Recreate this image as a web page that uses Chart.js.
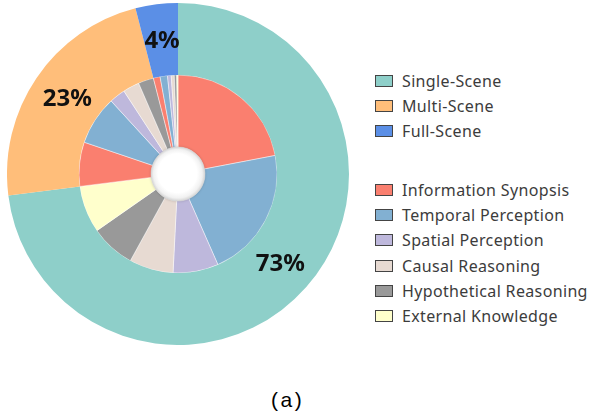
<!DOCTYPE html>
<html>
<head>
<meta charset="utf-8">
<script src="https://cdn.jsdelivr.net/npm/chart.js@4"></script>
<style>
  body{margin:0;background:#fff;}
  #wrap{position:relative;width:591px;height:418px;overflow:hidden;}
  #chartBox{position:absolute;left:7px;top:3px;width:342px;height:342px;}
  .legend{position:absolute;left:375px;font-family:'Noto Sans',sans-serif;font-size:16px;letter-spacing:0.35px;color:#3c3c3c;}
  .legend div{height:25.3px;display:flex;align-items:center;white-space:nowrap;}
  .legend span.box{display:inline-block;width:16px;height:10px;border:1px solid #444;margin-right:9px;}
  #cap{position:absolute;left:271px;top:388px;font-family:'Liberation Sans',Arial,sans-serif;font-size:21px;letter-spacing:2.5px;color:#000;}
</style>
</head>
<body>
<div id="wrap">
  <div id="chartBox"><canvas id="c"></canvas></div>
  <div class="legend" id="legScene" style="top:68px"></div>
  <div class="legend" id="legTask" style="top:177px"></div>
  <div id="cap">(a)</div>
</div>
<script>
// outer ring: scene type share (%)
const scenes = ['Single-Scene','Multi-Scene','Full-Scene'];
const sceneValues = [73, 23, 4];
const sceneColors = ['#8ECFC9','#FFBE7A','#5B8FE6'];

// inner ring: task type inside each scene (% of total)
const tasks = ['Information Synopsis','Temporal Perception','Spatial Perception','Causal Reasoning','Hypothetical Reasoning','External Knowledge'];
const taskColors = ['#FA7F6F','#82B0D2','#BEB8DC','#E7DAD2','#999999','#FFFFCC'];
const singleTasks = [22.0, 21.4, 7.4, 7.2, 7.3, 7.7];
const multiTasks  = [7.2, 8.0, 2.6, 2.7, 2.5, 0];
const fullTasks   = [1.1, 1.2, 0.6, 0.5, 0.4, 0.2];

const innerData = [...singleTasks, ...multiTasks, ...fullTasks];
const innerColors = [...taskColors, ...taskColors, ...taskColors];

// percent labels on the outer ring
const ringLabels = {
  id:'ringLabels',
  afterDatasetsDraw(chart){
    const ctx = chart.ctx;
    const meta = chart.getDatasetMeta(0);
    ctx.save();
    ctx.font = "bold 24px 'Noto Sans', sans-serif";
    ctx.fillStyle = '#111';
    ctx.textAlign = 'center';
    ctx.textBaseline = 'middle';
    meta.data.forEach((arc,i)=>{
      const p = arc.tooltipPosition();
      ctx.fillText(sceneValues[i]+'%', p.x+1, p.y+1);
    });
    ctx.restore();
  }
};

// white "ball" in the hole
const hole = {
  id:'hole',
  afterDatasetsDraw(chart){
    const ctx = chart.ctx;
    const arc = chart.getDatasetMeta(1).data[0];
    const x = arc.x, y = arc.y, r = arc.innerRadius;
    ctx.save();
    ctx.beginPath();
    ctx.arc(x, y, r, 0, Math.PI*2);
    const g = ctx.createRadialGradient(x-2, y-3, 0, x, y, r);
    g.addColorStop(0, '#ffffff');
    g.addColorStop(0.72, '#ffffff');
    g.addColorStop(0.9, '#f1f1f1');
    g.addColorStop(1, '#d4d4d4');
    ctx.fillStyle = g;
    ctx.shadowColor = 'rgba(0,0,0,0.25)';
    ctx.shadowBlur = 3;
    ctx.fill();
    ctx.restore();
  }
};

new Chart(document.getElementById('c'), {
  type:'doughnut',
  data:{
    labels: scenes,
    datasets:[
      {data: sceneValues, backgroundColor: sceneColors, borderWidth:0, hoverOffset:0},
      {data: innerData, backgroundColor: innerColors, borderWidth:0.8, borderColor:'rgba(255,255,255,0.55)', hoverOffset:0}
    ]
  },
  options:{
    responsive:true, maintainAspectRatio:false,
    animation:false, events:[],
    cutout: 27,
    plugins:{legend:{display:false}, tooltip:{enabled:false}}
  },
  plugins:[ringLabels, hole]
});

// html legend
function fillLegend(id, names, colors){
  const el = document.getElementById(id);
  names.forEach((n,i)=>{
    const row = document.createElement('div');
    row.innerHTML = '<span class="box" style="background:'+colors[i]+'"></span>'+n;
    el.appendChild(row);
  });
}
fillLegend('legScene', scenes, sceneColors);
fillLegend('legTask', tasks, taskColors);
</script>
</body>
</html>
